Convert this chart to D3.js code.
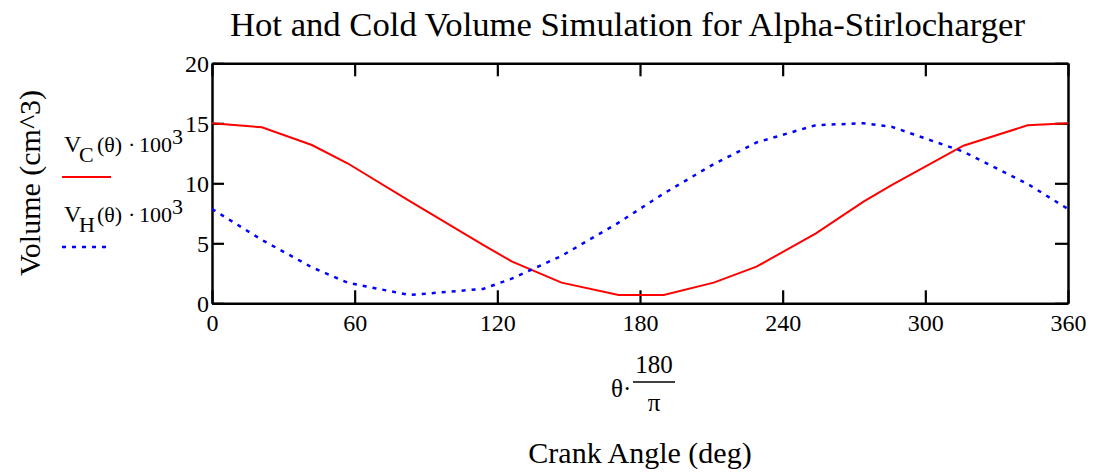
<!DOCTYPE html>
<html>
<head>
<meta charset="utf-8">
<script src="https://cdn.jsdelivr.net/npm/d3@7"></script>
<style>
  body { margin: 0; background: #fff; }
  svg { display: block; font-family: "Liberation Serif", "Times New Roman", serif; }
  .axis text { font-size: 24px; fill: #000; font-family: "Liberation Serif", serif; }
  .axis line, .axis path { stroke: #000; }
</style>
</head>
<body>
<div id="chart"></div>
<script>
// crank angle samples (deg), as plotted
var angles = [0, 21, 42, 57, 83, 114, 126, 147, 171, 190, 211, 229, 254, 274, 286, 316, 343, 360];
// cold volume V_C * 100^3 (cm^3)
var coldVol = [15.0, 14.67, 13.19, 11.67, 8.53, 4.86, 3.5, 1.72, 0.69, 0.69, 1.72, 3.05, 5.83, 8.47, 9.86, 13.13, 14.83, 15.0];
// hot volume V_H * 100^3 (cm^3)
var hotVol = [7.86, 5.28, 3.0, 1.72, 0.69, 1.2, 2.05, 3.95, 6.72, 9.15, 11.6, 13.4, 14.85, 15.0, 14.7, 12.64, 9.95, 7.86];
var xTicks = [0, 60, 120, 180, 240, 300, 360];
var yTicks = [0, 5, 10, 15, 20];

var W = 1096, H = 473;
var plotL = 212, plotR = 1068, plotT = 63.3, plotB = 303.3;

var svg = d3.select("#chart").append("svg")
    .attr("width", W)
    .attr("height", H);

var x = d3.scaleLinear().domain([0, 360]).range([plotL, plotR]);
var y = d3.scaleLinear().domain([0, 20]).range([plotB, plotT]);

// title
svg.append("text")
    .attr("x", 627.5)
    .attr("y", 36)
    .attr("text-anchor", "middle")
    .attr("textLength", 795)
    .attr("lengthAdjust", "spacingAndGlyphs")
    .style("font-size", "33px")
    .text("Hot and Cold Volume Simulation for Alpha-Stirlocharger");

// axes, ticks pointing inward
var gx = svg.append("g").attr("class", "axis")
    .attr("transform", "translate(0," + plotB + ")")
    .call(d3.axisBottom(x).tickValues(xTicks).tickSize(-13).tickSizeOuter(0).tickPadding(11));
var gy = svg.append("g").attr("class", "axis")
    .attr("transform", "translate(" + plotL + ",0)")
    .call(d3.axisLeft(y).tickValues(yTicks).tickSize(-12).tickSizeOuter(0).tickPadding(3));
var gt = svg.append("g").attr("class", "axis")
    .attr("transform", "translate(0," + plotT + ")")
    .call(d3.axisTop(x).tickValues(xTicks).tickSize(-13).tickSizeOuter(0).tickFormat(""));
var gr = svg.append("g").attr("class", "axis")
    .attr("transform", "translate(" + plotR + ",0)")
    .call(d3.axisRight(y).tickValues(yTicks).tickSize(-13).tickSizeOuter(0).tickFormat(""));

svg.selectAll(".axis line").attr("stroke-width", 2.2);
svg.selectAll(".axis path").attr("stroke-width", 2.5);
gx.selectAll("text").attr("dy", "0.71em");
gy.selectAll("text").attr("dy", "0.34em");

// curves
var line = d3.line()
    .x(function(d) { return x(d[0]); })
    .y(function(d) { return y(d[1]); });

svg.append("path")
    .datum(angles.map(function(a, i) { return [a, coldVol[i]]; }))
    .attr("d", line)
    .attr("fill", "none")
    .attr("stroke", "#ff0000")
    .attr("stroke-width", 2);

svg.append("path")
    .datum(angles.map(function(a, i) { return [a, hotVol[i]]; }))
    .attr("d", line)
    .attr("fill", "none")
    .attr("stroke", "#0000ff")
    .attr("stroke-width", 2.5)
    .attr("stroke-dasharray", "4,6");

// legend
function legendLabel(yBase, sub) {
    var t = svg.append("text")
        .attr("y", yBase)
        .style("font-size", "22px");
    t.append("tspan").attr("x", 64).style("font-size", "24px").text("V");
    t.append("tspan").attr("x", 79).attr("y", yBase + 10).text(sub);
    t.append("tspan").attr("x", 97).attr("y", yBase).text("(\u03B8)");
    t.append("tspan").attr("x", 128).text("\u00B7");
    t.append("tspan").attr("x", 139).text("100");
    t.append("tspan").attr("x", 172).attr("y", yBase - 8).text("3");
}
legendLabel(152, "C");
svg.append("line")
    .attr("x1", 62).attr("x2", 111)
    .attr("y1", 177).attr("y2", 177)
    .attr("stroke", "#ff0000").attr("stroke-width", 2);

legendLabel(222, "H");
svg.append("line")
    .attr("x1", 62).attr("x2", 112)
    .attr("y1", 247).attr("y2", 247)
    .attr("stroke", "#0000ff").attr("stroke-width", 2.5)
    .attr("stroke-dasharray", "4,6");

// y axis title
svg.append("text")
    .attr("transform", "translate(40,183) rotate(-90)")
    .attr("text-anchor", "middle")
    .style("font-size", "30px")
    .text("Volume (cm^3)");

// x expression: theta * 180 / pi
svg.append("text")
    .attr("x", 611).attr("y", 397)
    .style("font-size", "25px")
    .text("\u03B8\u00B7");
svg.append("text")
    .attr("x", 654).attr("y", 373)
    .attr("text-anchor", "middle")
    .style("font-size", "25px")
    .text("180");
svg.append("line")
    .attr("x1", 633).attr("x2", 675)
    .attr("y1", 382).attr("y2", 382)
    .attr("stroke", "#000").attr("stroke-width", 1.5);
svg.append("text")
    .attr("x", 654).attr("y", 411)
    .attr("text-anchor", "middle")
    .style("font-size", "25px")
    .text("\u03C0");

// x axis title
svg.append("text")
    .attr("x", 640)
    .attr("y", 463)
    .attr("text-anchor", "middle")
    .style("font-size", "30px")
    .text("Crank Angle (deg)");
</script>
</body>
</html>
